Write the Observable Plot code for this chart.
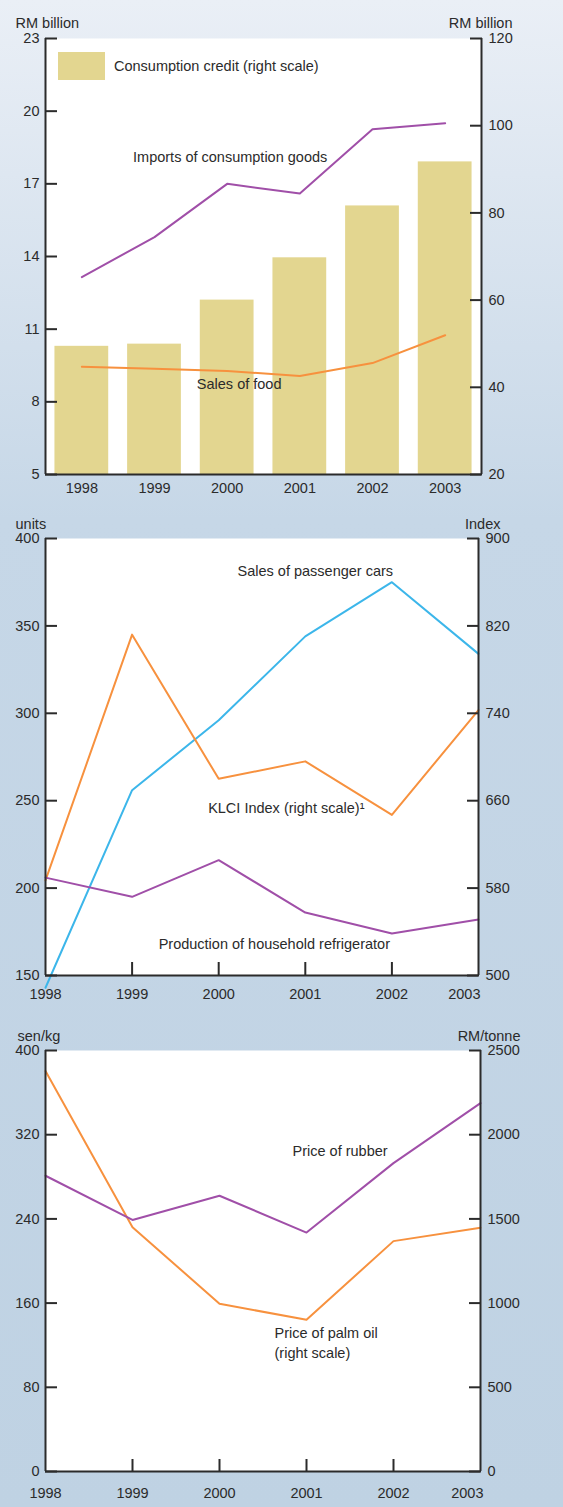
<!DOCTYPE html>
<html><head><meta charset="utf-8">
<script src="https://cdn.jsdelivr.net/npm/d3@7"></script>
<script src="https://cdn.jsdelivr.net/npm/@observablehq/plot@0.6"></script>
<style>
html,body{margin:0;padding:0;}
body{width:563px;height:1507px;background:linear-gradient(to bottom,#eaeff6 0px,#c6d7e7 520px,#bfd2e3 1507px);font-family:"Liberation Sans",Arial,sans-serif;position:relative;overflow:hidden;}
#chart svg{display:block;}
.legend{position:absolute;left:58px;top:52px;display:flex;align-items:center;font-size:14.5px;color:#2b2b2b;}
.sw{width:47px;height:28px;background:#e3d690;margin-right:9px;}
</style></head><body>
<div id="chart"></div>
<div class="legend"><div class="sw"></div><span>Consumption credit (right scale)</span></div>
<script>
// ---- data ----
const years = [1998, 1999, 2000, 2001, 2002, 2003];
// panel 1 (RM billion)
const credit = [49.4, 49.9, 60.0, 69.7, 81.6, 91.7];      // right scale
const imports = [13.15, 14.8, 17.0, 16.6, 19.25, 19.5];   // left scale
const food = [9.45, 9.37, 9.27, 9.07, 9.6, 10.75];        // left scale
const p1LeftTicks = [5, 8, 11, 14, 17, 20, 23];
const p1RightTicks = [20, 40, 60, 80, 100, 120];
// panel 2
const cars = [143, 256, 296, 344, 375, 334];               // units, left
const fridge = [206, 195, 216, 186, 174, 182];             // units, left
const klci = [587, 812, 680, 696, 647, 743];               // index, right
const p2LeftTicks = [150, 200, 250, 300, 350, 400];
const p2RightTicks = [500, 580, 660, 740, 820, 900];
// panel 3
const rubber = [281, 239, 262, 227, 293, 350];             // sen/kg, left
const palm = [2378, 1451, 996, 901, 1368, 1448];           // RM/tonne, right
const p3LeftTicks = [0, 80, 160, 240, 320, 400];
const p3RightTicks = [0, 500, 1000, 1500, 2000, 2500];
const innerTicks = [1999, 2000, 2001, 2002];

// ---- styles ----
const ink = "#2b2b2b";
const purple = "#a04fa8";
const orange = "#f7913e";
const blue = "#3cb6ea";
const barFill = "#e3d690";
const style = {background: "transparent", fontFamily: "Liberation Sans, Arial, sans-serif", fontSize: "14.5px", color: ink, overflow: "visible"};

// ticks point inward: draw outward ticks shifted inward by their length
function yAxes(leftTicks, rightTicks, toL, fromL) {
  return [
    Plot.axisY(leftTicks, {anchor: "left", label: null, tickSize: 12, dx: 12, tickPadding: 6, strokeWidth: 2, color: ink, tickFormat: d => String(d)}),
    Plot.axisY(rightTicks.map(toL), {anchor: "right", label: null, tickSize: 12, dx: -12, tickPadding: 7, strokeWidth: 2, color: ink, tickFormat: d => String(Math.round(fromL(d)))})
  ];
}
function xInnerTicks(len) {
  return Plot.axisX(innerTicks, {anchor: "bottom", label: null, tickSize: len, dy: -len, strokeWidth: 2, color: ink, tickFormat: () => ""});
}

// ---- panel 1 ----
function panel1() {
  const toL = v => 5 + (v - 20) * 0.18, fromL = y => 20 + (y - 5) / 0.18;
  const data = years.map((year, i) => ({year, credit: credit[i], imports: imports[i], food: food[i]}));
  return Plot.plot({
    width: 563, height: 505, marginTop: 38, marginBottom: 31, marginLeft: 45, marginRight: 82,
    style,
    x: {domain: [1997.5, 2003.5], axis: null},
    y: {domain: [5, 23], label: null},
    marks: [
      Plot.frame({fill: "white", stroke: "none"}),
      Plot.rectY(data, {x1: d => d.year - 0.37, x2: d => d.year + 0.37, y1: 5, y2: d => toL(d.credit), fill: barFill}),
      Plot.lineY(data, {x: "year", y: "imports", stroke: purple, strokeWidth: 2}),
      Plot.lineY(data, {x: "year", y: "food", stroke: orange, strokeWidth: 2}),
      Plot.ruleX([1997.5, 2003.5], {stroke: ink, strokeWidth: 2}),
      Plot.ruleY([5], {stroke: ink, strokeWidth: 2}),
      ...yAxes(p1LeftTicks, p1RightTicks, toL, fromL),
      Plot.text(years, {x: d => d, text: d => String(d), frameAnchor: "bottom", dy: 18, fill: ink}),
      Plot.text([data[2]], {x: "year", y: "imports", text: () => "Imports of consumption goods", dx: 3, dy: -26, fill: ink}),
      Plot.text([data[2]], {x: "year", y: "food", text: () => "Sales of food", dx: 12, dy: 13, fill: ink}),
      Plot.text(["RM billion"], {frameAnchor: "top-left", textAnchor: "start", dx: -30, dy: -21, fill: ink}),
      Plot.text(["RM billion"], {frameAnchor: "top-right", textAnchor: "end", dx: 31, dy: -21, fill: ink})
    ]
  });
}

// ---- panel 2 ----
function panel2() {
  const toL = v => 150 + (v - 500) * 0.625, fromL = y => 500 + (y - 150) / 0.625;
  const data = years.map((year, i) => ({year, cars: cars[i], fridge: fridge[i], klci: toL(klci[i])}));
  return Plot.plot({
    width: 563, height: 510, marginTop: 33, marginBottom: 40, marginLeft: 45, marginRight: 85,
    style,
    x: {domain: [1998, 2003], axis: null},
    y: {domain: [150, 400], label: null},
    marks: [
      Plot.frame({fill: "white", stroke: "none"}),
      Plot.lineY(data, {x: "year", y: "cars", stroke: blue, strokeWidth: 2}),
      Plot.lineY(data, {x: "year", y: "klci", stroke: orange, strokeWidth: 2}),
      Plot.lineY(data, {x: "year", y: "fridge", stroke: purple, strokeWidth: 2}),
      Plot.ruleX([1998, 2003], {stroke: ink, strokeWidth: 2}),
      Plot.ruleY([150], {stroke: ink, strokeWidth: 2}),
      ...yAxes(p2LeftTicks, p2RightTicks, toL, fromL),
      xInnerTicks(13),
      Plot.text(years.slice(0, 5), {x: d => d, text: d => String(d), frameAnchor: "bottom", dy: 23, fill: ink}),
      Plot.text(years.slice(5), {x: d => d, text: d => String(d), frameAnchor: "bottom", dy: 23, dx: 2, textAnchor: "end", fill: ink}),
      Plot.text([data[3]], {x: "year", y: "cars", text: () => "Sales of passenger cars", dx: 10, dy: -65, fill: ink}),
      Plot.text([data[3]], {x: "year", y: "klci", text: () => "KLCI Index (right scale)¹", dx: -19, dy: 47, fill: ink}),
      Plot.text([data[3]], {x: "year", y: "fridge", text: () => "Production of household refrigerator", dx: -31, dy: 32, fill: ink}),
      Plot.text(["units"], {frameAnchor: "top-left", textAnchor: "start", dx: -30, dy: -20, fill: ink}),
      Plot.text(["Index"], {frameAnchor: "top-right", textAnchor: "end", dx: 22, dy: -20, fill: ink})
    ]
  });
}

// ---- panel 3 ----
function panel3() {
  const toL = v => v * 0.16, fromL = y => y / 0.16;
  const data = years.map((year, i) => ({year, rubber: rubber[i], palm: toL(palm[i])}));
  return Plot.plot({
    width: 563, height: 492, marginTop: 35, marginBottom: 36, marginLeft: 45, marginRight: 83,
    style,
    x: {domain: [1998, 2003], axis: null},
    y: {domain: [0, 400], label: null},
    marks: [
      Plot.frame({fill: "white", stroke: "none"}),
      Plot.lineY(data, {x: "year", y: "palm", stroke: orange, strokeWidth: 2}),
      Plot.lineY(data, {x: "year", y: "rubber", stroke: purple, strokeWidth: 2}),
      Plot.ruleX([1998, 2003], {stroke: ink, strokeWidth: 2}),
      Plot.ruleY([0], {stroke: ink, strokeWidth: 2}),
      ...yAxes(p3LeftTicks, p3RightTicks, toL, fromL),
      xInnerTicks(12),
      Plot.text(years.slice(0, 5), {x: d => d, text: d => String(d), frameAnchor: "bottom", dy: 26, fill: ink}),
      Plot.text(years.slice(5), {x: d => d, text: d => String(d), frameAnchor: "bottom", dy: 26, dx: 3, textAnchor: "end", fill: ink}),
      Plot.text([data[3]], {x: "year", y: "rubber", text: () => "Price of rubber", textAnchor: "start", dx: -14, dy: -81, fill: ink}),
      Plot.text([data[3]], {x: "year", y: "palm", text: () => "Price of palm oil\n(right scale)", textAnchor: "start", lineHeight: 1.33, dx: -32, dy: 22, fill: ink}),
      Plot.text(["sen/kg"], {frameAnchor: "top-left", textAnchor: "start", dx: -28, dy: -20, fill: ink}),
      Plot.text(["RM/tonne"], {frameAnchor: "top-right", textAnchor: "end", dx: 40, dy: -20, fill: ink})
    ]
  });
}

const root = document.getElementById("chart");
root.append(panel1(), panel2(), panel3());
</script>
</body></html>
